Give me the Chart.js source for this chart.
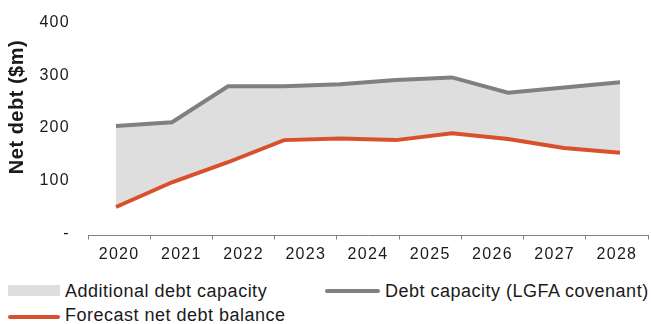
<!DOCTYPE html>
<html>
<head>
<meta charset="utf-8">
<script src="https://cdn.jsdelivr.net/npm/chart.js@4/dist/chart.umd.min.js"></script>
<style>
  html, body { margin: 0; padding: 0; background: #fff; }
  #wrap { position: relative; width: 651px; height: 324px; overflow: hidden; }
  #chart { position: absolute; left: 0; top: -5px; }
  .lg { position: absolute; font-family: 'Liberation Sans', Arial, sans-serif; font-size: 18px;
        letter-spacing: 0.5px; color: #1a1a1a; line-height: 20px; white-space: nowrap; }
  .sw { position: absolute; }
</style>
</head>
<body>
<div id="wrap">
  <canvas id="chart" width="651" height="275"></canvas>
  <div class="sw" style="left:8px;top:285px;width:52px;height:11px;background:#dedede"></div>
  <div class="lg" style="left:65px;top:281px">Additional debt capacity</div>
  <div class="sw" style="left:325px;top:289px;width:55px;height:4px;background:#808080;border-radius:2px"></div>
  <div class="lg" style="left:385px;top:281px">Debt capacity (LGFA covenant)</div>
  <div class="sw" style="left:8px;top:315px;width:52px;height:4px;background:#d9512c;border-radius:2px"></div>
  <div class="lg" style="left:65px;top:305px">Forecast net debt balance</div>
</div>
<script>
/* ─── DATA ─── */
const yearLabels   = ['2020', '2021', '2022', '2023', '2024', '2025', '2026', '2027', '2028'];
const periodLabels = ['1', '2', '3', '4', '5', '6', '7', '8', '9', '10'];
const debtCapacity = [204, 211, 279, 279, 283, 291, 296, 267, 277, 287];
const netDebt      = [50, 97, 135, 177, 180, 177, 190, 179, 162, 153];
const yTicks       = [0, 100, 200, 300, 400];

const FONT = "'Liberation Sans', Arial, sans-serif";
const GREY = '#808080';
const RED  = '#d9512c';

/* spacing to mimic the wide label rendering of the original */
const spacingPlugin = {
  id: 'spacing',
  beforeUpdate(chart) { chart.ctx.letterSpacing = '1.3px'; },
  beforeDraw(chart)   { chart.ctx.letterSpacing = '1.3px'; }
};

/* rotated y-axis title (canvas is shifted up 5px) */
const yTitlePlugin = {
  id: 'yTitle',
  afterDraw(chart) {
    const ctx = chart.ctx;
    ctx.save();
    ctx.letterSpacing = '0.5px';
    ctx.translate(23, 112);
    ctx.rotate(-Math.PI / 2);
    ctx.font = `bold 20px ${FONT}`;
    ctx.fillStyle = '#1a1a1a';
    ctx.textAlign = 'center';
    ctx.textBaseline = 'alphabetic';
    ctx.fillText('Net debt ($m)', 0, 0);
    ctx.restore();
  }
};

new Chart(document.getElementById('chart'), {
  type: 'line',
  data: {
    datasets: [
      {
        label: 'Forecast net debt balance',
        data: netDebt,
        xAxisID: 'x2',
        borderColor: RED,
        borderWidth: 4,
        pointRadius: 0,
        tension: 0,
        fill: false,
      },
      {
        label: 'Debt capacity (LGFA covenant)',
        data: debtCapacity,
        xAxisID: 'x2',
        borderColor: GREY,
        borderWidth: 4,
        pointRadius: 0,
        tension: 0,
        fill: { target: 0 },
        backgroundColor: '#dedede',
      }
    ]
  },
  options: {
    responsive: false,
    animation: false,
    layout: { padding: { top: 15, right: 3, left: 0, bottom: 0 } },
    plugins: { legend: { display: false }, tooltip: { enabled: false } },
    scales: {
      x: {
        type: 'category',
        labels: yearLabels,
        offset: true,
        grid: { display: true, drawOnChartArea: false, color: GREY, tickLength: 4, offset: true },
        border: { display: true, color: GREY, width: 1 },
        ticks: { color: '#1a1a1a', font: { family: FONT, size: 16 }, padding: 5, maxRotation: 0 },
        afterFit: s => { s.height = 34.5; }
      },
      x2: {
        type: 'category',
        labels: periodLabels,
        offset: true,
        display: false,
      },
      y: {
        min: -4,
        max: 400,
        grid: { display: false, drawTicks: false },
        border: { display: false },
        ticks: {
          color: '#1a1a1a',
          font: { family: FONT, size: 16 },
          padding: 18,
          callback: v => (v === 0 ? '-' : v)
        },
        afterBuildTicks: s => { s.ticks = yTicks.map(v => ({ value: v })); },
        afterFit: s => { s.width = 88; }
      }
    }
  },
  plugins: [spacingPlugin, yTitlePlugin]
});
</script>
</body>
</html>
